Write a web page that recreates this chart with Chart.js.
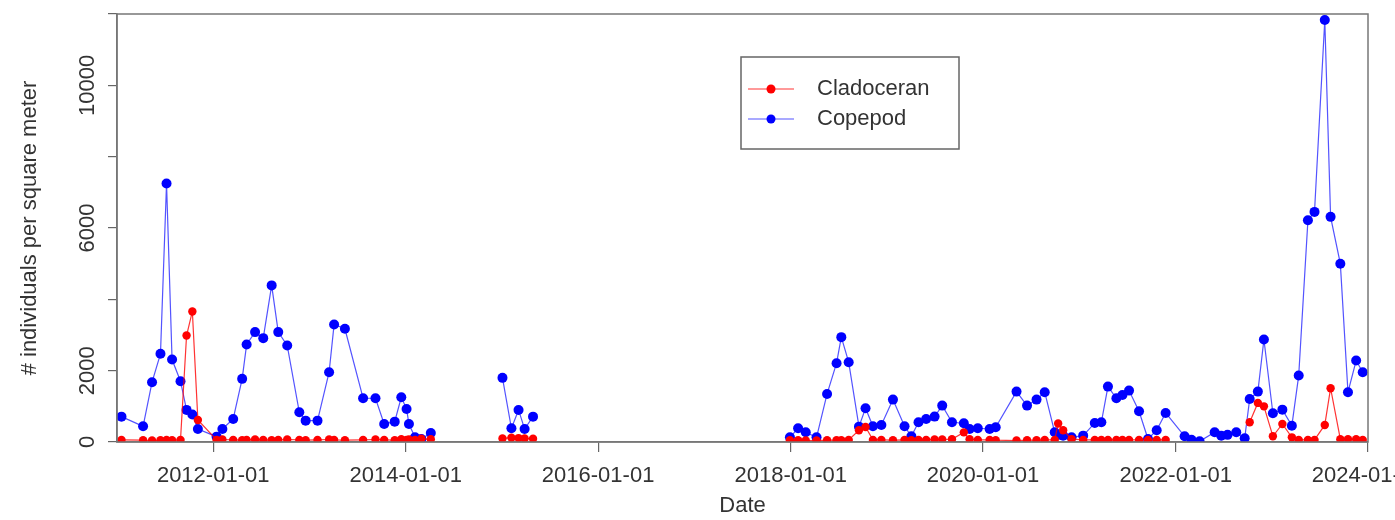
<!DOCTYPE html>
<html>
<head>
<meta charset="utf-8">
<script src="https://cdn.jsdelivr.net/npm/chart.js@4/dist/chart.umd.min.js"></script>
<style>
  html, body { margin: 0; padding: 0; background: #fff; overflow: hidden; }
  #wrap { width: 1395px; height: 520px; }
</style>
</head>
<body>
<div id="wrap"><canvas id="chart"></canvas></div>
<script>
// sampling dates (null rows = no sampling, breaks the lines)
const DATES = [
  '2011-01-18', '2011-04-10', '2011-05-14', '2011-06-15', '2011-07-08', '2011-07-29',
  '2011-08-30', '2011-09-22', '2011-10-14', '2011-11-04', '2012-01-14', '2012-02-05',
  '2012-03-17', '2012-04-20', '2012-05-07', '2012-06-08', '2012-07-09', '2012-08-10',
  '2012-09-04', '2012-10-08', '2012-11-23', '2012-12-17', '2013-01-31', '2013-03-16',
  '2013-04-04', '2013-05-15', '2013-07-23', '2013-09-08', '2013-10-11', '2013-11-20',
  '2013-12-15', '2014-01-04', '2014-01-13', '2014-02-05', '2014-03-01', '2014-04-06',
  '2014-08-15',
  '2015-01-03', '2015-02-06', '2015-03-05', '2015-03-28', '2015-04-29',
  '2016-09-01',
  '2017-12-29', '2018-01-29', '2018-02-27', '2018-04-09', '2018-05-19', '2018-06-24',
  '2018-07-12', '2018-08-09', '2018-09-17', '2018-10-12', '2018-11-09', '2018-12-11',
  '2019-01-24', '2019-03-09', '2019-04-04', '2019-05-01', '2019-05-30', '2019-07-01',
  '2019-07-30', '2019-09-05', '2019-10-20', '2019-11-11', '2019-12-12', '2020-01-26',
  '2020-02-18', '2020-05-07', '2020-06-16', '2020-07-22', '2020-08-22', '2020-09-29',
  '2020-10-12', '2020-10-31', '2020-12-02', '2021-01-15', '2021-02-28', '2021-03-25',
  '2021-04-19', '2021-05-21', '2021-06-13', '2021-07-08', '2021-08-15', '2021-09-18',
  '2021-10-21', '2021-11-24', '2022-02-04', '2022-03-02', '2022-04-02', '2022-05-29',
  '2022-06-23', '2022-07-17', '2022-08-19', '2022-09-20', '2022-10-09', '2022-11-09',
  '2022-12-02', '2023-01-05', '2023-02-10', '2023-03-18', '2023-04-13', '2023-05-18',
  '2023-06-12', '2023-07-21', '2023-08-12', '2023-09-18', '2023-10-17', '2023-11-17',
  '2023-12-12'
];

const CLADOCERAN = [
  60, 50, 40, 50, 60, 50,
  60, 2986, 3660, 618, 60, 70,
  60, 50, 60, 70, 60, 50,
  60, 70, 60, 50, 60, 70,
  60, 50, 60, 70, 60, 50,
  80, 60, 70, 60, 90, 80,
  null,
  100, 120, 110, 100, 90,
  null,
  50, 50, 40, 40, 50, 50,
  50, 60, 330, 420, 60, 60,
  50, 60, 50, 60, 60, 70,
  70, 80, 270, 80, 60, 60,
  50, 40, 50, 50, 60, 60,
  520, 330, 80, 60, 60, 60,
  60, 60, 60, 60, 60, 60,
  60, 60, null, null, null, null,
  null, null, null, null, 553, 1096,
  1000, 160, 506, 131, 60, 60,
  60, 478, 1508, 80, 80, 80,
  60
];

const COPEPOD = [
  711, 440, 1677, 2472, 7247, 2312,
  1705, 900, 770, 365, 150, 365,
  646, 1770, 2734, 3081, 2912, 4391,
  3081, 2706, 834, 599, 599, 1957,
  3296, 3174, 1227, 1227, 506, 571,
  1255, 927, 506, 131, 84, 253,
  null,
  1798, 385, 899, 365, 711,
  null,
  131, 385, 272, 131, 1348, 2210,
  2940, 2238, 431, 946, 440, 478,
  1189, 440, 160, 553, 646, 712,
  1020, 553, 525, 365, 385, 365,
  412, 1413, 1020, 1189, 1396, 272,
  200, 178, 131, 178, 534, 553,
  1553, 1227, 1320, 1441, 860, 84,
  330, 815, 160, 60, 20, 272,
  178, 200, 272, 104, 1208, 1413,
  2874, 806, 907, 458, 1862, 6216,
  6452, 11834, 6312, 5000, 1396, 2284,
  1957
];

const SERIES_NAMES = ['Cladoceran', 'Copepod'];
const X_TICKS = ['2012-01-01', '2014-01-01', '2016-01-01', '2018-01-01', '2020-01-01', '2022-01-01', '2024-01-01'];
const Y_LABELS = [0, 2000, 6000, 10000];

const FONT = 'Liberation Sans, Arial, sans-serif';
const TXT = '#333';

const toPts = vals => DATES.map((d, i) => ({ x: Date.parse(d), y: vals[i] }));

// y tick labels are rotated like in R
const yLabels = {
  id: 'yLabels',
  afterDraw(chart) {
    const { ctx, scales: { y } } = chart;
    ctx.save();
    ctx.fillStyle = TXT;
    ctx.font = '22px ' + FONT;
    ctx.textAlign = 'center';
    ctx.textBaseline = 'middle';
    Y_LABELS.forEach(v => {
      ctx.save();
      ctx.translate(88, y.getPixelForValue(v));
      ctx.rotate(-Math.PI / 2);
      ctx.fillText(String(v), 0, 0);
      ctx.restore();
    });
    ctx.restore();
  }
};

// box around plot + legend inside
const boxLegend = {
  id: 'boxLegend',
  afterDraw(chart) {
    const { ctx, chartArea: a } = chart;
    ctx.save();
    ctx.strokeStyle = '#777';
    ctx.lineWidth = 1.5;
    ctx.strokeRect(a.left, a.top, a.right - a.left, a.bottom - a.top);

    const lx = 741, ly = 57, lw = 218, lh = 92;
    ctx.fillStyle = '#fff';
    ctx.fillRect(lx, ly, lw, lh);
    ctx.strokeStyle = '#666';
    ctx.strokeRect(lx, ly, lw, lh);
    ctx.font = '22px ' + FONT;
    ctx.textBaseline = 'middle';
    chart.data.datasets.forEach((ds, i) => {
      const yy = 89 + i * 30;
      ctx.strokeStyle = ds.borderColor;
      ctx.lineWidth = 1.2;
      ctx.beginPath();
      ctx.moveTo(748, yy);
      ctx.lineTo(794, yy);
      ctx.stroke();
      ctx.fillStyle = ds.pointBackgroundColor;
      ctx.beginPath();
      ctx.arc(771, yy, 4.5, 0, Math.PI * 2);
      ctx.fill();
      ctx.fillStyle = TXT;
      ctx.fillText(ds.label, 817, yy);
    });
    ctx.restore();
  }
};

new Chart(document.getElementById('chart'), {
  type: 'line',
  data: {
    datasets: [
      {
        label: SERIES_NAMES[0],
        data: toPts(CLADOCERAN),
        borderColor: 'rgba(255,0,0,0.8)',
        borderWidth: 1.2,
        pointBackgroundColor: '#ff0000',
        pointBorderColor: '#ff0000',
        pointRadius: 4.2,
        pointBorderWidth: 0,
        tension: 0,
        spanGaps: false,
      },
      {
        label: SERIES_NAMES[1],
        data: toPts(COPEPOD),
        borderColor: 'rgba(40,40,255,0.8)',
        borderWidth: 1.2,
        pointBackgroundColor: '#0000ff',
        pointBorderColor: '#0000ff',
        pointRadius: 5,
        pointBorderWidth: 0,
        tension: 0,
        spanGaps: false,
      }
    ]
  },
  options: {
    responsive: true,
    maintainAspectRatio: false,
    animation: false,
    layout: { padding: { top: 14, right: 27, left: 0, bottom: 0 } },
    plugins: {
      legend: { display: false },
      tooltip: { enabled: false }
    },
    scales: {
      x: {
        type: 'linear',
        min: Date.parse('2011-01-01'),
        max: Date.parse('2024-01-01'),
        afterBuildTicks: s => { s.ticks = X_TICKS.map(d => ({ value: Date.parse(d) })); },
        afterFit: s => { s.height = 78; s.paddingLeft = 0; s.paddingRight = 0; },
        grid: { drawOnChartArea: false, color: '#666', tickLength: 10, lineWidth: 1.2 },
        border: { color: '#777', width: 1.5 },
        ticks: {
          autoSkip: false,
          maxRotation: 0,
          padding: 11,
          color: TXT,
          font: { family: FONT, size: 22 },
          callback: v => new Date(v).toISOString().slice(0, 10)
        },
        title: {
          display: true,
          text: 'Date',
          color: TXT,
          font: { family: FONT, size: 22 },
          padding: { top: 0, bottom: 1 }
        }
      },
      y: {
        min: 0,
        max: 12000,
        afterBuildTicks: s => {
          const t = [];
          for (let v = 0; v <= 12000; v += 2000) t.push({ value: v });
          s.ticks = t;
        },
        afterFit: s => { s.width = 117; s.paddingTop = 0; s.paddingBottom = 0; },
        grid: { drawOnChartArea: false, color: '#666', tickLength: 9, lineWidth: 1.2 },
        border: { color: '#777', width: 1.5 },
        ticks: { display: false },
        title: {
          display: true,
          text: '# individuals per square meter',
          color: TXT,
          font: { family: FONT, size: 22 },
          padding: { top: 17, bottom: 0 }
        }
      }
    }
  },
  plugins: [yLabels, boxLegend]
});
</script>
</body>
</html>
